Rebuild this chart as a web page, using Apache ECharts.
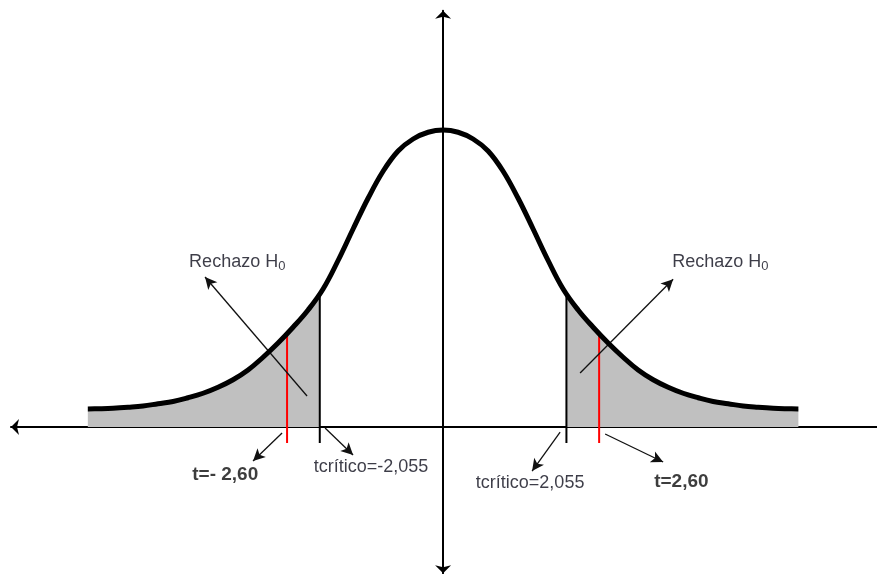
<!DOCTYPE html>
<html>
<head>
<meta charset="utf-8">
<title>Distribución t – región de rechazo</title>
<script src="https://cdn.jsdelivr.net/npm/echarts@6/dist/echarts.min.js"></script>
<style>
  html, body { margin: 0; padding: 0; background: #ffffff; }
  #chart { width: 877px; height: 574px; }
</style>
</head>
<body>
<div id="chart"></div>
<script>
// Bell curve of the test statistic: abscissa t (even steps) and drawn height
const curveT = [
  -5.92, -5.75, -5.5, -5.25, -5, -4.75, -4.5, -4.25, -4, -3.75, -3.5, -3.25, -3, -2.75, -2.5, -2.25,
  -2, -1.75, -1.5, -1.25, -1, -0.75, -0.5, -0.25, 0,
  0.25, 0.5, 0.75, 1, 1.25, 1.5, 1.75, 2,
  2.25, 2.5, 2.75, 3, 3.25, 3.5, 3.75, 4, 4.25, 4.5, 4.75, 5, 5.25, 5.5, 5.75, 5.92
];
const curveHeight = [
  0.024, 0.0243, 0.025, 0.0263, 0.028, 0.031, 0.034, 0.039, 0.045, 0.053, 0.063, 0.076, 0.093, 0.112, 0.133, 0.156,
  0.184, 0.222, 0.264, 0.305, 0.341, 0.368, 0.384, 0.393, 0.396,
  0.393, 0.384, 0.368, 0.341, 0.305, 0.264, 0.222, 0.184,
  0.156, 0.133, 0.112, 0.093, 0.076, 0.063, 0.053, 0.045, 0.039, 0.034, 0.031, 0.028, 0.0263, 0.025, 0.0243, 0.024
];

// Critical value and observed statistic (two-tailed test), with the curve height above each
const criticalValues = [-2.055, 2.055];
const criticalHeight = 0.178;
const observedValues = [-2.60, 2.60];
const observedHeight = 0.125;

// Annotation texts
const rejectText = ['Rechazo H{s|0}', 'Rechazo H{s|0}'];
const criticalText = ['tcrítico=-2,055', 'tcrítico=2,055'];
const observedText = ['t=- 2,60', 't=2,60'];

const curve = curveT.map((t, i) => [t, curveHeight[i]]);

const stemBottom = -0.0213;   // marker lines reach a little below the t axis
const FONT = '"Liberation Sans", Arial, sans-serif';

function tailFill(points) {
  return {
    type: 'line', data: points, smooth: 0.4, showSymbol: false, silent: true, z: 1,
    lineStyle: { width: 0 },
    areaStyle: { color: '#c0c0c0', opacity: 1 }
  };
}

function stem(t, top, color) {
  return {
    type: 'line', data: [[t, stemBottom], [t, top]], showSymbol: false, silent: true, z: 3,
    lineStyle: { color: color, width: 2 }
  };
}

const normalLabel = { fontFamily: FONT, fontSize: 18, color: '#0d0d1a' };
const boldLabel = { fontFamily: FONT, fontSize: 19, fontWeight: 'bold', color: '#0d0d0d' };

function note(value, text, style) {
  return {
    value: value,
    label: Object.assign({
      show: true, position: 'inside', formatter: text, align: 'center', verticalAlign: 'middle',
      rich: { s: { fontFamily: FONT, fontSize: 13, color: '#0d0d1a', padding: [9, 0, 0, 0] } }
    }, style)
  };
}

function arrow(from, to) {
  return [{ coord: from }, { coord: to }];
}

const leftTail = [[criticalValues[0], criticalHeight]];
const rightTail = [[criticalValues[1], criticalHeight]];

const option = {
  animation: false,
  backgroundColor: '#ffffff',
  grid: { left: 11, right: 0, top: 10.75, bottom: 0.75, containLabel: false },
  xAxis: {
    type: 'value', min: -7.2, max: 7.23,
    axisLine: { onZero: true, symbol: ['arrow', 'none'], symbolSize: [12, 8], lineStyle: { color: '#000', width: 2 } },
    axisTick: { show: false }, axisLabel: { show: false }, splitLine: { show: false }
  },
  yAxis: {
    type: 'value', min: -0.195, max: 0.555,
    axisLine: { onZero: true, symbol: ['arrow', 'arrow'], symbolSize: [12, 8], lineStyle: { color: '#000', width: 2 } },
    axisTick: { show: false }, axisLabel: { show: false }, splitLine: { show: false }
  },
  series: [
    tailFill(curve.filter(p => p[0] < criticalValues[0]).concat(leftTail)),
    tailFill(rightTail.concat(curve.filter(p => p[0] > criticalValues[1]))),
    stem(criticalValues[0], criticalHeight, '#000000'),
    stem(criticalValues[1], criticalHeight, '#000000'),
    stem(observedValues[0], observedHeight, '#ff0000'),
    stem(observedValues[1], observedHeight, '#ff0000'),
    {
      type: 'line', data: curve, smooth: 0.4, showSymbol: false, silent: true, z: 5,
      lineStyle: { color: '#000000', width: 5, cap: 'butt' }
    },
    {
      type: 'scatter', symbolSize: 0, silent: true, z: 6,
      data: [
        note([-3.43, 0.22], rejectText[0], normalLabel),
        note([4.62, 0.22], rejectText[1], normalLabel),
        note([-1.2, -0.0533], criticalText[0], normalLabel),
        note([1.45, -0.0747], criticalText[1], normalLabel),
        note([-3.63, -0.064], observedText[0], boldLabel),
        note([3.97, -0.0733], observedText[1], boldLabel)
      ],
      markLine: {
        silent: true, animation: false,
        symbol: ['none', 'arrow'], symbolSize: [9, 12],
        label: { show: false },
        lineStyle: { color: '#111111', width: 1.3, type: 'solid' },
        emphasis: { disabled: true },
        data: [
          arrow([-2.267, 0.0413], [-3.967, 0.2]),
          arrow([2.283, 0.072], [3.833, 0.197]),
          arrow([-2.683, -0.008], [-3.167, -0.0453]),
          arrow([-1.967, -0.0013], [-1.5, -0.0373]),
          arrow([1.95, -0.0067], [1.483, -0.0587]),
          arrow([2.7, -0.0093], [3.667, -0.0467])
        ]
      }
    }
  ]
};

const chart = echarts.init(document.getElementById('chart'), null, { renderer: 'canvas' });
chart.setOption(option);
</script>
</body>
</html>
